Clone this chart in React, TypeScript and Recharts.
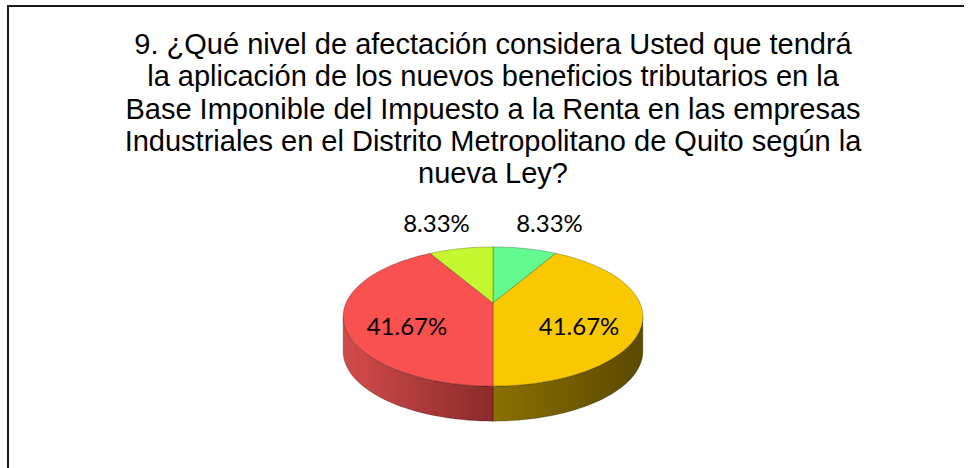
import React from "react";
import { PieChart, Pie, Cell } from "recharts";

// ~ 12 encuestados: 1, 5, 5, 1
const categories = ["Opción 1", "Opción 2", "Opción 3", "Opción 4"];
const percentages = [8.33, 41.67, 41.67, 8.33];
const topColors = ["#64F98F", "#F9C800", "#F95050", "#C4F730"];
const sideColors = ["#3f9c5a", "url(#sideYellow)", "url(#sideRed)", "#7b9a1e"];

const titleLines = [
  "9. ¿Qué nivel de afectación considera Usted que tendrá",
  "la aplicación de los nuevos beneficios tributarios en la",
  "Base Imponible del Impuesto a la Renta en las empresas",
  "Industriales en el Distrito Metropolitano de Quito según la",
  "nueva Ley?",
];

const data = categories.map((name, i) => ({ name, value: percentages[i] }));

// 3d look: circle seen in perspective
const CX = 493;
const CY = 303;
const R = 147;
const B = 67;
const K = 0.194;
const DEPTH = 35;
const RAD = Math.PI / 180;
const EDGE = (Math.asin(K) * 180) / Math.PI; // silhouette of the side

const proj = (a: number, dy = 0) => {
  const s = Math.sin(a * RAD);
  const w = 1 + K * s;
  return [CX + (R * Math.cos(a * RAD)) / w, CY - (B * s) / w + dy];
};

// points along the rim from a to b (degrees)
const rim = (a: number, b: number, dy = 0) => {
  const n = Math.max(2, Math.ceil(Math.abs(a - b) / 2));
  const pts: string[] = [];
  for (let i = 0; i <= n; i++) {
    const [x, y] = proj(a + ((b - a) * i) / n, dy);
    pts.push(`${x.toFixed(2)},${y.toFixed(2)}`);
  }
  return pts;
};

function TopSlice(props: any) {
  const { startAngle, endAngle, fill } = props;
  const d = `M${CX},${CY} L${rim(startAngle, endAngle).join(" L")} Z`;
  return <path d={d} fill={fill} stroke="rgba(0,0,0,0.3)" strokeWidth={0.8} strokeLinejoin="round" />;
}

function SideSlice(props: any) {
  const { startAngle, endAngle, fill } = props;
  const a = Math.min(startAngle, -EDGE);
  const b = Math.max(endAngle, -180 + EDGE);
  if (a <= b) return <g />;
  const upper = rim(a, b);
  const lower = rim(b, a, DEPTH);
  const d = `M${upper.join(" L")} L${lower.join(" L")} Z`;
  return <path d={d} fill={fill} stroke="rgba(0,0,0,0.3)" strokeWidth={0.8} strokeLinejoin="round" />;
}

function renderLabel(props: any) {
  const { midAngle, percent, value } = props;
  const outside = percent < 0.2;
  const fx = outside ? 1.485 : 0.606;
  const fy = outside ? 1.22 : 1.38;
  const x = CX + R * fx * Math.cos(midAngle * RAD);
  const y = CY - B * fy * Math.sin(midAngle * RAD);
  return (
    <text
      x={x}
      y={y + 8}
      textAnchor="middle"
      fill="#000"
      fontFamily="Lato, 'Open Sans', sans-serif"
      fontSize={24}
    >
      {`${value.toFixed(2)}%`}
    </text>
  );
}

export default function App() {
  return (
    <div
      style={{
        position: "absolute",
        left: 0,
        top: 0,
        width: 971,
        height: 468,
        background: "#fff",
        overflow: "hidden",
      }}
    >
      <div
        style={{
          position: "absolute",
          left: 7,
          top: 5,
          width: 955,
          height: 480,
          borderTop: "2px solid #1a1a1a",
          borderLeft: "2px solid #1a1a1a",
        }}
      />
      <div
        style={{
          position: "absolute",
          left: 0,
          top: 28,
          width: 986,
          textAlign: "center",
          fontFamily: "'Liberation Sans', Arial, sans-serif",
          fontSize: 29,
          lineHeight: "32.3px",
          color: "#000",
        }}
      >
        {titleLines.map((l) => (
          <div key={l}>{l}</div>
        ))}
      </div>
      <div style={{ position: "absolute", left: 0, top: 0 }}>
        <PieChart width={971} height={468}>
          <defs>
            <linearGradient id="sideRed" x1={CX - R} x2={CX} y1={0} y2={0} gradientUnits="userSpaceOnUse">
              <stop offset="0%" stopColor="#d24b4b" />
              <stop offset="100%" stopColor="#8a2a2a" />
            </linearGradient>
            <linearGradient id="sideYellow" x1={CX} x2={CX + R} y1={0} y2={0} gradientUnits="userSpaceOnUse">
              <stop offset="0%" stopColor="#8a7000" />
              <stop offset="100%" stopColor="#5c4a00" />
            </linearGradient>
          </defs>
          <Pie
            data={data}
            dataKey="value"
            cx={CX}
            cy={CY + DEPTH}
            outerRadius={R}
            startAngle={90}
            endAngle={-270}
            isAnimationActive={false}
            shape={SideSlice}
            stroke="none"
          >
            {data.map((d, i) => (
              <Cell key={d.name} fill={sideColors[i]} />
            ))}
          </Pie>
          <Pie
            data={data}
            dataKey="value"
            cx={CX}
            cy={CY}
            outerRadius={R}
            startAngle={90}
            endAngle={-270}
            isAnimationActive={false}
            shape={TopSlice}
            label={renderLabel}
            labelLine={false}
          >
            {data.map((d, i) => (
              <Cell key={d.name} fill={topColors[i]} />
            ))}
          </Pie>
        </PieChart>
      </div>
    </div>
  );
}
